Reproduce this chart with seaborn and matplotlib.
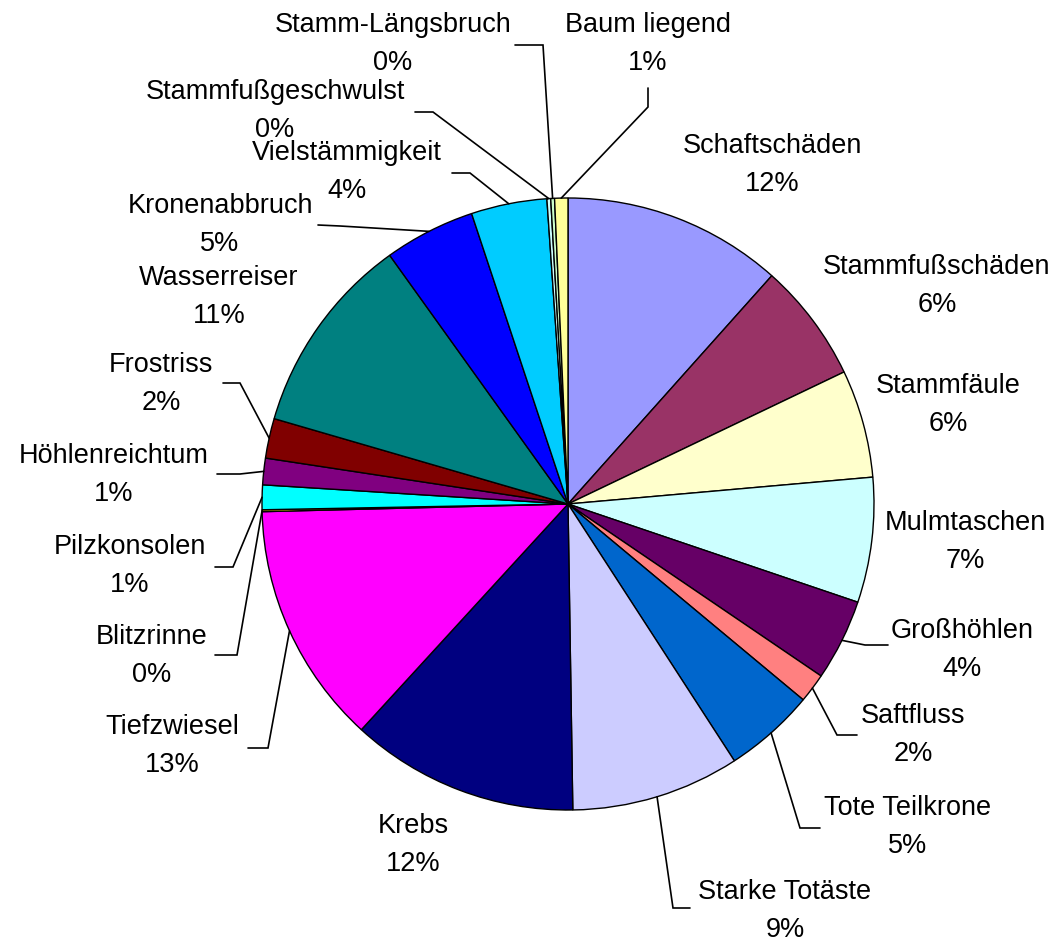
import numpy as np
import matplotlib
matplotlib.use("Agg")
import matplotlib.pyplot as plt
import seaborn as sns

# ---------------- data ----------------
categories = ["Schaftschäden", "Stammfußschäden", "Stammfäule", "Mulmtaschen",
              "Großhöhlen", "Saftfluss", "Tote Teilkrone", "Starke Totäste",
              "Krebs", "Tiefzwiesel", "Blitzrinne", "Pilzkonsolen",
              "Höhlenreichtum", "Frostriss", "Wasserreiser", "Kronenabbruch",
              "Vielstämmigkeit", "Stammfußgeschwulst", "Stamm-Längsbruch",
              "Baum liegend"]
shares = [11.6, 6.3, 5.7, 6.6, 4.3, 1.55, 4.8, 8.9, 12.05, 12.8, 0.1, 1.3,
          1.4, 2.1, 10.6, 4.8, 4.0, 0.2, 0.2, 0.7]
colors = ["#9999FF", "#993366", "#FFFFCC", "#CCFFFF", "#660066", "#FF8080",
          "#0066CC", "#CCCCFF", "#000080", "#FF00FF", "#FFFF00", "#00FFFF",
          "#800080", "#800000", "#008080", "#0000FF", "#00CCFF", "#CCFFFF",
          "#CCFFCC", "#FFFF99"]

# ---------------- layout (image pixel coords, y downward) ----------------
W, H = 1061, 947
CX, CY, R = 568, 504, 306
label_pos = {
    "Schaftschäden": (772, 165),
    "Stammfußschäden": (937, 286),
    "Stammfäule": (948, 405),
    "Mulmtaschen": (965, 542),
    "Großhöhlen": (962, 650),
    "Saftfluss": (913, 735),
    "Tote Teilkrone": (908, 827),
    "Starke Totäste": (785, 911),
    "Krebs": (413, 845),
    "Tiefzwiesel": (172, 746),
    "Blitzrinne": (152, 656),
    "Pilzkonsolen": (130, 566),
    "Höhlenreichtum": (114, 475),
    "Frostriss": (161, 384),
    "Wasserreiser": (219, 297),
    "Kronenabbruch": (220, 225),
    "Vielstämmigkeit": (347, 172),
    "Stammfußgeschwulst": (275, 111),
    "Stamm-Längsbruch": (393, 44),
    "Baum liegend": (648, 44),
}
leaders = {
    "Großhöhlen": [(865, 645), (888, 645)],
    "Saftfluss": [(837, 735), (857, 735)],
    "Tote Teilkrone": [(800, 828), (820, 828)],
    "Starke Totäste": [(673, 908), (690, 908)],
    "Tiefzwiesel": [(268, 748), (248, 748)],
    "Blitzrinne": [(237, 655), (215, 655)],
    "Pilzkonsolen": [(233, 567), (215, 567)],
    "Höhlenreichtum": [(240, 474), (217, 474)],
    "Frostriss": [(240, 383), (223, 383)],
    "Kronenabbruch": [(340, 226), (318, 225)],
    "Vielstämmigkeit": [(470, 173), (452, 173)],
    "Stammfußgeschwulst": [(433, 112), (415, 112)],
    "Stamm-Längsbruch": [(543, 45), (515, 45)],
    "Baum liegend": [(648, 107), (648, 88)],
}

sns.set_theme(style="white")
plt.rcParams['font.family'] = ['Liberation Sans', 'DejaVu Sans']

palette = sns.color_palette(colors)

fig = plt.figure(figsize=(W / 100, H / 100), dpi=100)
ax = fig.add_axes([0, 0, 1, 1])
wedges, _ = ax.pie(shares, colors=palette, startangle=90, counterclock=False,
                   radius=R, center=(CX, H - CY),
                   wedgeprops=dict(edgecolor="black", linewidth=1.0))
ax.set_xlim(0, W)
ax.set_ylim(0, H)
ax.set_aspect("equal")
ax.axis("off")

total = float(sum(shares))
for name, s, w in zip(categories, shares, wedges):
    pct = 100.0 * s / total
    x, y = label_pos[name]
    ax.text(x, H - y, f"{name}\n{pct:.0f}%", ha="center", va="center",
            fontsize=19.5, linespacing=1.6, color="black",
            multialignment="center")
    if name in leaders:
        mid = np.deg2rad((w.theta1 + w.theta2) / 2.0)
        px = CX + R * np.cos(mid)
        py = (H - CY) + R * np.sin(mid)
        pts = [(px, py)] + [(a, H - b) for a, b in leaders[name]]
        xs, ys = zip(*pts)
        ax.plot(xs, ys, color="black", lw=1.2, solid_joinstyle="miter")

fig.savefig("out.png", dpi=100, facecolor="white")
